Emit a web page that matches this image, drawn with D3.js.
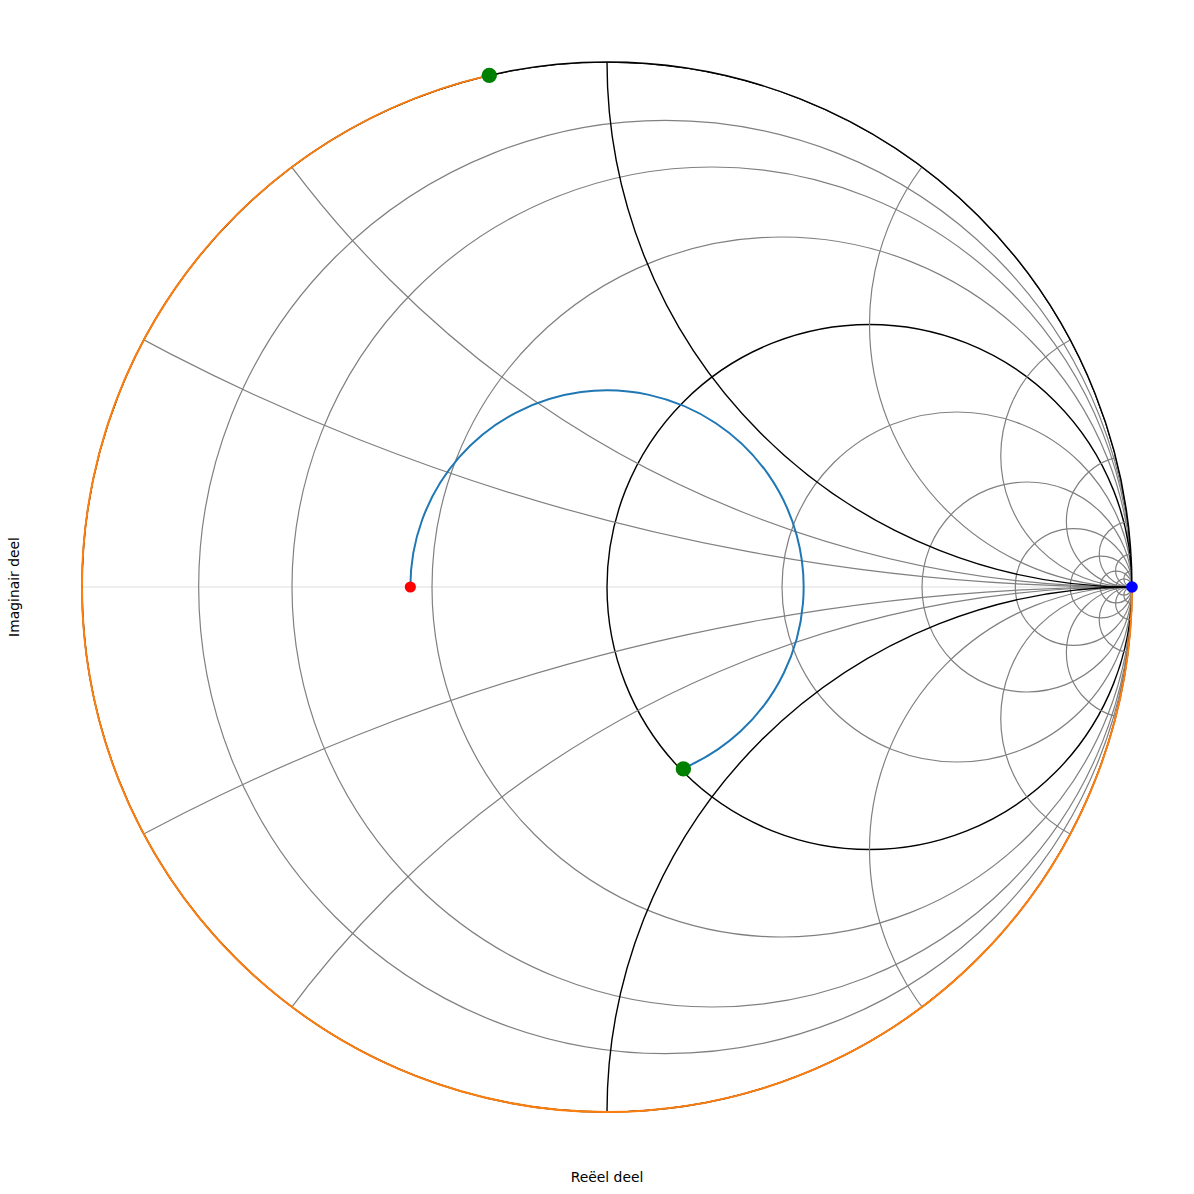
<!DOCTYPE html>
<html>
<head>
<meta charset="utf-8">
<script src="https://cdn.jsdelivr.net/npm/d3@7"></script>
<style>
  body { margin: 0; background: #fff; }
  svg { display: block; }
</style>
</head>
<body>
<div id="smith"></div>
<script>
// grid values (genormaliseerde impedantie)
const resistances = [0.125, 0.25, 0.5, 1, 2, 4, 8, 16, 32, 64];
const reactances = [0.25, 0.5, 1, 2, 4, 8, 16, 32, 64];
const boldValues = [0, 1];

// punten op de kaart (genormaliseerd)
const loadZ = { re: 0.455, im: 0 };      // belasting (rood)
const matchZ = { re: 1.01, im: -0.815 }; // punt op r = 1 (groen)
const stubZ = { re: 0, im: 0.796 };      // stub reactantie (groen)
// open klem -> Gamma = 1 (blauw)

const axisLabels = { x: "Reëel deel", y: "Imaginair deel" };

const W = 1194, H = 1194;

const svg = d3.select("#smith").append("svg")
    .attr("width", W)
    .attr("height", H);

// schalen voor het Gamma-vlak
const x = d3.scaleLinear().domain([-1, 1]).range([82, 1132]);
const y = d3.scaleLinear().domain([-1, 1]).range([1112, 62]);
const len = v => x(v) - x(0);

// reflectiecoëfficiënt uit impedantie
function gamma(z) {
    const nr = z.re - 1, ni = z.im;
    const dr = z.re + 1, di = z.im;
    const d = dr * dr + di * di;
    return { re: (nr * dr + ni * di) / d, im: (ni * dr - nr * di) / d };
}

svg.append("defs").append("clipPath")
    .attr("id", "unit")
    .append("circle")
    .attr("cx", x(0))
    .attr("cy", y(0))
    .attr("r", len(1));

const g = svg.append("g");

// reële as
g.append("line")
    .attr("x1", x(-1)).attr("x2", x(1))
    .attr("y1", y(0)).attr("y2", y(0))
    .attr("stroke", "#000")
    .attr("stroke-opacity", 0.09)
    .attr("stroke-width", 1.4);

const grid = g.append("g").attr("clip-path", "url(#unit)").attr("fill", "none");

function isBold(v) { return boldValues.includes(v); }

// constante weerstand cirkels
const rAll = [0].concat(resistances);
rAll.sort((a, b) => isBold(a) - isBold(b));
rAll.forEach(function(r) {
    grid.append("circle")
        .attr("cx", x(r / (1 + r)))
        .attr("cy", y(0))
        .attr("r", len(1 / (1 + r)))
        .attr("stroke", isBold(r) ? "#000" : "#808080")
        .attr("stroke-width", isBold(r) ? 1.4 : 1.2);
});

// constante reactantie bogen
const xAll = reactances.slice().sort((a, b) => isBold(a) - isBold(b));
xAll.forEach(function(xv) {
    [1, -1].forEach(function(s) {
        grid.append("circle")
            .attr("cx", x(1))
            .attr("cy", y(s / xv))
            .attr("r", len(1 / xv))
            .attr("stroke", isBold(xv) ? "#000" : "#808080")
            .attr("stroke-width", isBold(xv) ? 1.4 : 1.2);
    });
});

// rand (r = 0) opnieuw zwart bovenop
g.append("circle")
    .attr("cx", x(0)).attr("cy", y(0)).attr("r", len(1))
    .attr("fill", "none")
    .attr("stroke", "#000")
    .attr("stroke-width", 1.4);

// transformatie langs de lijn: constante |Gamma|, richting generator (met de klok mee)
const gL = gamma(loadZ);
const gM = gamma(matchZ);
const rho = Math.hypot(gL.re, gL.im);
const aL = -Math.atan2(gL.im, gL.re);
let aM = -Math.atan2(gM.im, gM.re);
while (aM <= aL) aM += 2 * Math.PI;

const p1 = d3.path();
p1.arc(x(0), y(0), len(rho), aL, aM, false);
g.append("path")
    .attr("d", p1.toString())
    .attr("fill", "none")
    .attr("stroke", "#1f77b4")
    .attr("stroke-width", 2);

// open stub: van Gamma = 1 met de klok mee naar de stub reactantie
const gS = gamma(stubZ);
let aS = -Math.atan2(gS.im, gS.re);
while (aS <= 0) aS += 2 * Math.PI;
const p2 = d3.path();
p2.arc(x(0), y(0), len(1), 0, aS, false);
g.append("path")
    .attr("d", p2.toString())
    .attr("fill", "none")
    .attr("stroke", "#ff7f0e")
    .attr("stroke-width", 2);

// markers
g.append("circle")
    .attr("cx", x(gL.re)).attr("cy", y(gL.im))
    .attr("r", 5.6).attr("fill", "#ff0000");

g.append("circle")
    .attr("cx", x(gM.re)).attr("cy", y(gM.im))
    .attr("r", 7.7).attr("fill", "#008000");

g.append("circle")
    .attr("cx", x(gS.re)).attr("cy", y(gS.im))
    .attr("r", 7.7).attr("fill", "#008000");

g.append("circle")
    .attr("cx", x(1)).attr("cy", y(0))
    .attr("r", 5.8).attr("fill", "#0000ff");

// aslabels
svg.append("text")
    .attr("x", 607)
    .attr("y", 1182)
    .attr("text-anchor", "middle")
    .style("font-family", "DejaVu Sans")
    .style("font-size", "13.9px")
    .text(axisLabels.x);

svg.append("text")
    .attr("transform", "translate(19,587) rotate(-90)")
    .attr("text-anchor", "middle")
    .style("font-family", "DejaVu Sans")
    .style("font-size", "13.9px")
    .text(axisLabels.y);
</script>
</body>
</html>
